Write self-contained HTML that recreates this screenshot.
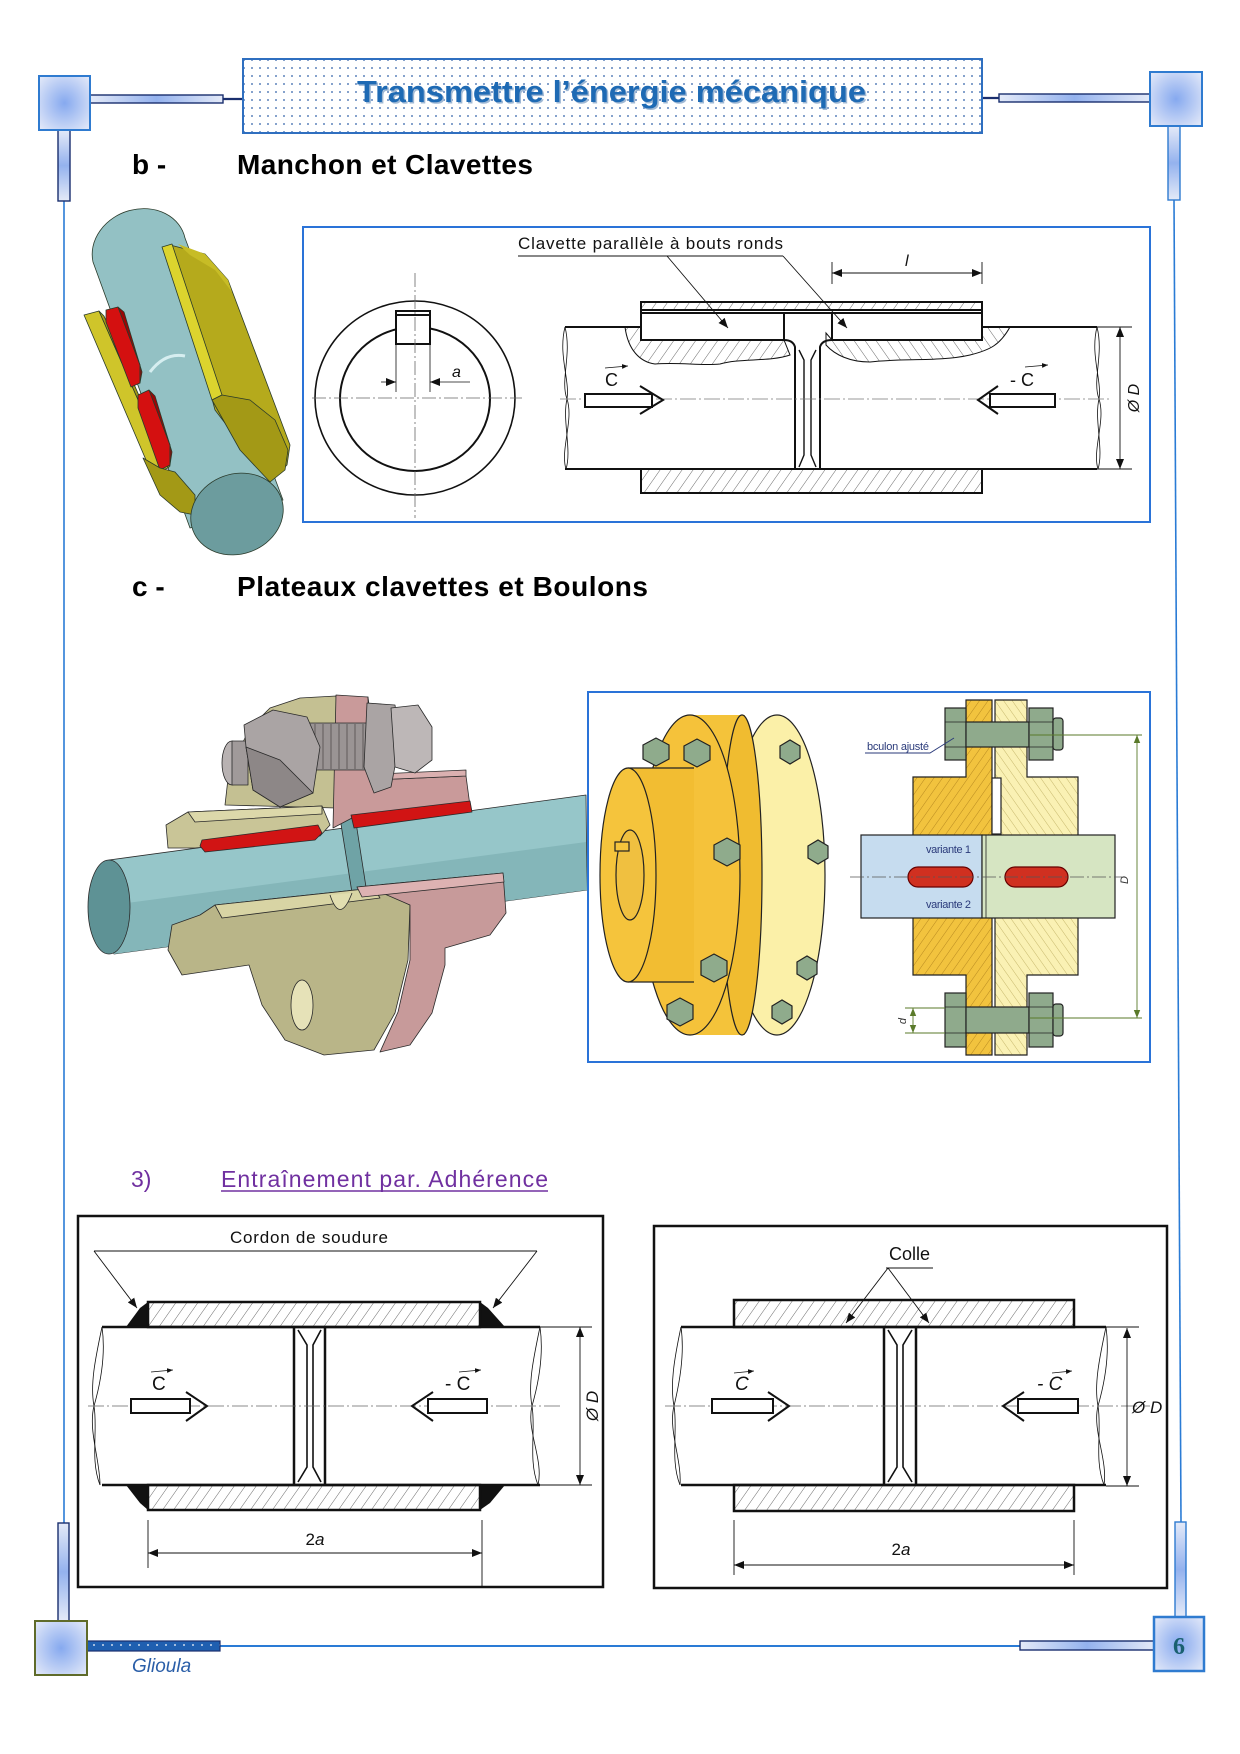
<!DOCTYPE html>
<html><head><meta charset="utf-8"><style>
html,body{margin:0;padding:0;background:#fff;}
svg{display:block;}
</style></head><body>
<svg xmlns="http://www.w3.org/2000/svg" width="1240" height="1754" viewBox="0 0 1240 1754" font-family="'Liberation Sans', Arial, sans-serif">
<defs>
 <radialGradient id="sq" cx="50%" cy="50%" r="65%"><stop offset="0" stop-color="#86a9ef"/><stop offset="1" stop-color="#dfe6f8"/></radialGradient>
 <linearGradient id="barH" x1="0" y1="0" x2="1" y2="0"><stop offset="0" stop-color="#e4eaf8"/><stop offset="0.5" stop-color="#94b2ee"/><stop offset="1" stop-color="#e4eaf8"/></linearGradient>
 <linearGradient id="barV" x1="0" y1="0" x2="0" y2="1"><stop offset="0" stop-color="#e4eaf8"/><stop offset="0.5" stop-color="#94b2ee"/><stop offset="1" stop-color="#e4eaf8"/></linearGradient>
 <pattern id="dots" width="8" height="8" patternUnits="userSpaceOnUse"><rect width="8" height="8" fill="#fff"/><circle cx="4" cy="4" r="0.9" fill="#2e5fa8"/></pattern>
 <pattern id="fdots" width="9" height="10" patternUnits="userSpaceOnUse"><rect width="9" height="10" fill="#1f5fb0"/><circle cx="4" cy="5" r="0.9" fill="#fff"/></pattern>
 <pattern id="hatch" width="9" height="9" patternUnits="userSpaceOnUse" patternTransform="rotate(35)"><rect width="9" height="9" fill="#fff"/><line x1="0" y1="0" x2="0" y2="9" stroke="#444" stroke-width="0.8"/></pattern>
 <pattern id="hatchR" width="9" height="9" patternUnits="userSpaceOnUse" patternTransform="rotate(-35)"><rect width="9" height="9" fill="#fff"/><line x1="0" y1="0" x2="0" y2="9" stroke="#444" stroke-width="0.8"/></pattern>
 <pattern id="hatchO" width="7" height="7" patternUnits="userSpaceOnUse" patternTransform="rotate(35)"><rect width="7" height="7" fill="#f2c33e"/><line x1="0" y1="0" x2="0" y2="7" stroke="#a87a18" stroke-width="0.8"/></pattern>
 <pattern id="hatchY" width="7" height="7" patternUnits="userSpaceOnUse" patternTransform="rotate(-35)"><rect width="7" height="7" fill="#faf1b4"/><line x1="0" y1="0" x2="0" y2="7" stroke="#b9a85a" stroke-width="0.8"/></pattern>
 <marker id="ah" viewBox="0 0 10 8" refX="10" refY="4" markerWidth="10" markerHeight="8" markerUnits="userSpaceOnUse" orient="auto-start-reverse"><path d="M0,0 L10,4 L0,8 Z" fill="#111"/></marker>
 <marker id="ahg" viewBox="0 0 10 8" refX="10" refY="4" markerWidth="8" markerHeight="7" markerUnits="userSpaceOnUse" orient="auto-start-reverse"><path d="M0,0 L10,4 L0,8 Z" fill="#5a7a2a"/></marker>
 <marker id="ahs" viewBox="0 0 10 8" refX="10" refY="4" markerWidth="6" markerHeight="5" markerUnits="userSpaceOnUse" orient="auto"><path d="M0,0 L10,4 L0,8 Z" fill="#111"/></marker>
</defs>

<!-- ============ FRAME ============ -->
<line x1="64" y1="201" x2="64" y2="1523" stroke="#2a7bd5" stroke-width="1.6"/>
<line x1="1174" y1="200" x2="1181" y2="1522" stroke="#2a7bd5" stroke-width="1.6"/>
<line x1="223" y1="99" x2="245" y2="99" stroke="#1a2f6e" stroke-width="2.2"/>
<rect x="90" y="95" width="133" height="8" fill="url(#barH)" stroke="#1a2f6e" stroke-width="1.4"/>
<rect x="58" y="130" width="12" height="71" fill="url(#barV)" stroke="#1a2f6e" stroke-width="1.4"/>
<rect x="39" y="76" width="51" height="54" fill="url(#sq)" stroke="#2f7bd0" stroke-width="2"/>
<line x1="982" y1="98" x2="999" y2="98" stroke="#1a2f6e" stroke-width="2.2"/>
<rect x="999" y="94" width="151" height="8" fill="url(#barH)" stroke="#1a2f6e" stroke-width="1.4"/>
<rect x="1168" y="126" width="12" height="74" fill="url(#barV)" stroke="#2f7bd0" stroke-width="1.4"/>
<rect x="1150" y="72" width="52" height="54" fill="url(#sq)" stroke="#2f7bd0" stroke-width="2"/>
<rect x="243" y="59" width="739" height="74" fill="url(#dots)" stroke="#2f6fc0" stroke-width="2"/>
<text x="358.5" y="103.5" font-size="31" font-weight="bold" fill="#9fb8d4" textLength="509" lengthAdjust="spacingAndGlyphs">Transmettre l’énergie mécanique</text>
<text x="357" y="102" font-size="31" font-weight="bold" fill="#1e6ab4" textLength="509" lengthAdjust="spacingAndGlyphs">Transmettre l’énergie mécanique</text>
<rect x="58" y="1523" width="11" height="98" fill="url(#barV)" stroke="#1a2f6e" stroke-width="1.4"/>
<rect x="1175" y="1522" width="11" height="95" fill="url(#barV)" stroke="#2f7bd0" stroke-width="1.4"/>
<line x1="220" y1="1646" x2="1020" y2="1646" stroke="#2a7bd5" stroke-width="2"/>
<rect x="87" y="1641" width="133" height="10" fill="url(#fdots)" stroke="#1a2f6e" stroke-width="1.2"/>
<rect x="1020" y="1641" width="134" height="9" fill="url(#barH)" stroke="#1a2f6e" stroke-width="1.4"/>
<rect x="35" y="1621" width="52" height="54" fill="url(#sq)" stroke="#5f6b2a" stroke-width="2"/>
<rect x="1154" y="1617" width="50" height="54" fill="url(#sq)" stroke="#2f7bd0" stroke-width="2.5"/>
<text x="1179" y="1654" font-size="24" font-weight="bold" font-family="'Liberation Serif', serif" fill="#1a6070" text-anchor="middle">6</text>
<text x="132" y="1672" font-size="19" font-style="italic" fill="#2a5ea8">Glioula</text>

<!-- ============ HEADINGS ============ -->
<text x="132" y="174" font-size="28" font-weight="bold" fill="#000">b -</text>
<text x="237" y="174" font-size="28" font-weight="bold" fill="#000" textLength="296">Manchon et Clavettes</text>
<text x="132" y="596" font-size="28" font-weight="bold" fill="#000">c -</text>
<text x="237" y="596" font-size="28" font-weight="bold" fill="#000" textLength="411">Plateaux clavettes et Boulons</text>
<text x="131" y="1187" font-size="23" fill="#7030a0">3)</text>
<text x="221" y="1187" font-size="23" fill="#7030a0" textLength="327">Entraînement par. Adhérence</text>
<line x1="221" y1="1191" x2="548" y2="1191" stroke="#7030a0" stroke-width="1.5"/>

<!-- ============ 3D IMAGE 1 ============ -->
<g stroke="#2a3a2a" stroke-width="0.8" stroke-linejoin="round">
 <path d="M93,262 A47,40 -20 0 1 185,238 L283,500 L190,528 Z" fill="#93c1c4"/>
 <path d="M84,315 L99,311 L168,468 L152,474 Z" fill="#cfc52a"/>
 <path d="M99,311 L104,316 L170,466 L168,468 Z" fill="#a49a18"/>
 <path d="M106,310 L118,307 L140,365 L140,383 L131,387 L106,322 Z" fill="#d41010"/>
 <path d="M118,307 L124,312 L142,372 L140,383 L140,365 Z" fill="#9a0606"/>
 <path d="M138,395 L149,390 L170,445 L170,465 L160,470 L138,408 Z" fill="#d41010"/>
 <path d="M149,390 L155,396 L172,452 L170,465 L170,445 Z" fill="#9a0606"/>
 <path d="M170,245 L205,254 L228,280 L290,445 L287,465 L270,482 L215,410 L175,262 Z" fill="#b5aa1c"/>
 <path d="M178,244 L205,254 L228,280 L232,292 L215,270 L190,255 Z" fill="#c7bc26" stroke="none"/>
 <path d="M162,247 L172,244 L222,395 L212,400 Z" fill="#dcd42e"/>
 <path d="M212,400 L222,395 L250,400 L275,420 L288,450 L285,470 L270,482 L240,450 Z" fill="#a39916"/>
 <path d="M143,458 L160,468 L175,472 L195,495 L195,515 L180,512 L160,495 Z" fill="#a39916"/>
 <path d="M150,372 Q165,352 185,356" fill="none" stroke="#d6eef0" stroke-width="3"/>
 <ellipse cx="237" cy="514" rx="47" ry="40" transform="rotate(-20 237 514)" fill="#6c9c9e"/>
</g>

<!-- ============ TOP DRAWING ============ -->
<rect x="303" y="227" width="847" height="295" fill="#fff" stroke="#2a73d8" stroke-width="2"/>
<g fill="none" stroke="#111">
 <ellipse cx="415" cy="398" rx="100" ry="97" stroke-width="1.6"/>
 <ellipse cx="415" cy="399" rx="75" ry="72" stroke-width="2"/>
 <rect x="396" y="311" width="34" height="33" fill="#fff" stroke-width="2"/>
 <line x1="396" y1="315" x2="430" y2="315" stroke-width="2"/>
 <line x1="415" y1="273" x2="415" y2="518" stroke="#666" stroke-width="0.8" stroke-dasharray="14 3 2 3"/>
 <line x1="312" y1="398" x2="522" y2="398" stroke="#666" stroke-width="0.8" stroke-dasharray="14 3 2 3"/>
 <line x1="396" y1="344" x2="396" y2="392" stroke-width="0.8"/>
 <line x1="430" y1="344" x2="430" y2="392" stroke-width="0.8"/>
 <line x1="381" y1="382" x2="396" y2="382" stroke-width="0.8" marker-end="url(#ah)"/>
 <line x1="470" y1="382" x2="430" y2="382" stroke-width="0.8" marker-end="url(#ah)"/>
</g>
<text x="452" y="377" font-size="16" font-style="italic" fill="#111">a</text>

<g fill="none" stroke="#111" stroke-width="2">
 <path d="M625,327 L641,327 L641,340 L784,340 L790,355 C770,362 740,358 720,364 C700,366 680,362 655,364 C640,362 628,350 625,327 Z" fill="url(#hatch)" stroke-width="1"/>
 <path d="M826,333 L832,340 L982,340 L982,327 L1010,327 C1000,345 990,350 970,355 C940,362 900,358 870,362 C850,362 835,355 826,345 Z" fill="url(#hatchR)" stroke-width="1"/>
 <line x1="565" y1="327" x2="641" y2="327"/>
 <line x1="982" y1="327" x2="1097" y2="327"/>
 <line x1="565" y1="469" x2="1097" y2="469"/>
 <rect x="641" y="302" width="341" height="8" fill="url(#hatch)"/>
 <line x1="641" y1="313" x2="982" y2="313"/>
 <line x1="641" y1="302" x2="641" y2="340"/>
 <line x1="982" y1="302" x2="982" y2="340"/>
 <rect x="641" y="313" width="143" height="27" fill="#fff"/>
 <rect x="832" y="313" width="150" height="27" fill="#fff"/>
 <path d="M784,318 L784,340 Q793,340 795,347 L795,469"/>
 <path d="M832,318 L832,340 Q822,340 820,347 L820,469"/>
 <path d="M799,350 L804,360 L804,455 L799,467" stroke-width="1.4"/>
 <path d="M816,350 L811,360 L811,455 L816,467" stroke-width="1.4"/>
 <rect x="641" y="469" width="341" height="24" fill="url(#hatch)"/>
 <path d="M565,327 C572,355 560,380 567,399 C574,420 560,450 566,469" stroke-width="0.8"/>
 <path d="M565,327 C558,355 570,380 567,399 C562,420 572,450 566,469" stroke-width="0.8"/>
 <path d="M1097,327 C1104,355 1092,380 1099,399 C1106,420 1092,450 1098,469" stroke-width="0.8"/>
 <path d="M1097,327 C1090,355 1102,380 1099,399 C1094,420 1104,450 1098,469" stroke-width="0.8"/>
</g>
<line x1="560" y1="399" x2="1112" y2="399" stroke="#777" stroke-width="0.8" stroke-dasharray="16 3 2 3"/>
<g fill="#fff" stroke="#111" stroke-width="2">
 <path d="M585,394 L652,394 L652,407 L585,407 Z"/>
 <path d="M640,386 L663,400 L640,414" fill="none"/>
 <path d="M990,394 L1055,394 L1055,407 L990,407 Z"/>
 <path d="M998,386 L978,400 L998,414" fill="none"/>
</g>
<text x="605" y="386" font-size="18" fill="#111">C</text>
<line x1="605" y1="368" x2="628" y2="366" stroke="#111" stroke-width="0.8" marker-end="url(#ahs)"/>
<text x="1010" y="386" font-size="18" fill="#111">- C</text>
<line x1="1025" y1="367" x2="1048" y2="365" stroke="#111" stroke-width="0.8" marker-end="url(#ahs)"/>
<g stroke="#111" stroke-width="0.9" fill="none">
 <line x1="1097" y1="327" x2="1132" y2="327"/>
 <line x1="1097" y1="469" x2="1132" y2="469"/>
 <line x1="1120" y1="327" x2="1120" y2="469" marker-start="url(#ah)" marker-end="url(#ah)"/>
 <line x1="832" y1="262" x2="832" y2="284"/>
 <line x1="982" y1="262" x2="982" y2="284"/>
 <line x1="832" y1="273" x2="982" y2="273" marker-start="url(#ah)" marker-end="url(#ah)"/>
 <line x1="518" y1="256" x2="783" y2="256"/>
 <line x1="667" y1="256" x2="728" y2="328" marker-end="url(#ah)"/>
 <line x1="783" y1="256" x2="847" y2="328" marker-end="url(#ah)"/>
</g>
<text x="1139" y="398" font-size="16" font-style="italic" fill="#111" text-anchor="middle" transform="rotate(-90 1139 398)">Ø D</text>
<text x="905" y="266" font-size="16" font-style="italic" fill="#111">l</text>
<text x="518" y="249" font-size="17" fill="#111" textLength="265">Clavette parallèle à bouts ronds</text>

<!-- ============ 3D IMAGE 2 ============ -->
<g stroke="#2a2a2a" stroke-width="0.8" stroke-linejoin="round">
 <path d="M109,860 L586,795 L587,890 L114,954 Z" fill="#96c6c9"/>
 <path d="M112,905 L586,842 L587,890 L114,954 Z" fill="#84b6b9" stroke="none"/>
 <ellipse cx="109" cy="907" rx="21" ry="47" fill="#5e9295"/>
 <path d="M340,818 L355,816 L368,900 L354,905 Z" fill="#6fa3a6"/>
 <path d="M225,805 L229,770 L250,728 L270,708 L300,698 L336,696 L336,808 Z" fill="#c4c092"/>
 <path d="M336,695 L368,697 L372,780 L466,776 L470,806 L352,818 L333,828 Z" fill="#c99a9a"/>
 <path d="M368,697 L372,780 L466,776 L466,770 L378,774 Z" fill="#dab0b0"/>
 <ellipse cx="232" cy="763" rx="10" ry="22" fill="#b8b2b2"/>
 <rect x="232" y="741" width="16" height="44" fill="#a09a9a"/>
 <rect x="307" y="723" width="74" height="47" fill="#9a9494"/>
 <g stroke="#6a6464" stroke-width="1.2"><line x1="315" y1="724" x2="315" y2="769"/><line x1="323" y1="724" x2="323" y2="769"/><line x1="331" y1="724" x2="331" y2="769"/><line x1="339" y1="724" x2="339" y2="769"/><line x1="347" y1="724" x2="347" y2="769"/><line x1="355" y1="724" x2="355" y2="769"/><line x1="363" y1="724" x2="363" y2="769"/><line x1="371" y1="724" x2="371" y2="769"/></g>
 <path d="M244,725 L273,710 L307,717 L320,747 L313,793 L280,807 L253,790 L246,747 Z" fill="#aaa4a4"/>
 <path d="M246,747 L280,760 L313,793 L280,807 L253,790 Z" fill="#8d8787"/>
 <path d="M367,703 L395,705 L400,740 L391,787 L374,793 L364,767 Z" fill="#aaa4a4"/>
 <path d="M391,708 L418,705 L432,727 L432,760 L415,773 L395,767 Z" fill="#bdb7b7"/>
 <path d="M166,825 L188,812 L322,806 L330,825 L320,836 L195,848 L168,848 Z" fill="#c9c597"/>
 <path d="M188,812 L322,806 L322,814 L195,822 Z" fill="#dcd8aa"/>
 <path d="M202,840 L318,825 L322,833 L315,840 L205,852 L200,846 Z" fill="#d11414"/>
 <path d="M351,815 L470,801 L472,812 L354,828 Z" fill="#d11414"/>
 <path d="M215,905 L374,888 L410,905 L408,960 L395,1013 L374,1050 L324,1055 L285,1040 L262,1005 L249,965 L182,975 L168,950 L172,925 L200,915 Z" fill="#b9b588"/>
 <path d="M215,905 L374,888 L380,898 L222,918 Z" fill="#d8d4a4"/>
 <path d="M330,895 Q340,925 352,893" fill="#e2deb0"/>
 <ellipse cx="302" cy="1005" rx="11" ry="25" fill="#e6e2b8"/>
 <path d="M357,887 L503,873 L506,913 L490,935 L445,948 L445,965 L432,1013 L410,1045 L380,1052 L398,1012 L410,960 L410,905 L380,892 Z" fill="#c79a9a"/>
 <path d="M357,887 L503,873 L504,882 L362,897 Z" fill="#ddb2b2"/>
</g>

<!-- ============ IMAGE 3 ============ -->
<rect x="588" y="692" width="562" height="370" fill="#fff" stroke="#2a73d8" stroke-width="2"/>
<g stroke="#222" stroke-width="1.2">
 <ellipse cx="777" cy="875" rx="48" ry="160" fill="#fbf0a8"/>
 <rect x="690" y="715" width="55" height="320" fill="#f4c33a" stroke="none"/>
 <ellipse cx="742" cy="875" rx="20" ry="160" fill="#f0bc30"/>
 <ellipse cx="690" cy="875" rx="50" ry="160" fill="#f5c23a"/>
 <rect x="628" y="768" width="66" height="214" fill="#f2bd32" stroke="none"/>
 <line x1="628" y1="768" x2="694" y2="768"/>
 <line x1="628" y1="982" x2="694" y2="982"/>
 <ellipse cx="628" cy="875" rx="28" ry="107" fill="#f5c43c"/>
 <ellipse cx="630" cy="875" rx="14" ry="45" fill="#f0c040"/>
 <rect x="615" y="842" width="14" height="9" fill="#f5c43c"/>
 <g fill="#8fab8c">
  <polygon points="780,746 790,740 800,746 800,758 790,764 780,758"/>
  <polygon points="808,846 818,840 828,846 828,858 818,864 808,858"/>
  <polygon points="797,962 807,956 817,962 817,974 807,980 797,974"/>
  <polygon points="772,1006 782,1000 792,1006 792,1018 782,1024 772,1018"/>
  <polygon points="643,745 656,738 669,745 669,759 656,766 643,759"/>
  <polygon points="684,746 697,739 710,746 710,760 697,767 684,760"/>
  <polygon points="714,845 727,838 740,845 740,859 727,866 714,859"/>
  <polygon points="701,961 714,954 727,961 727,975 714,982 701,975"/>
  <polygon points="667,1005 680,998 693,1005 693,1019 680,1026 667,1019"/>
 </g>
 <path d="M966,700 L992,700 L992,1055 L966,1055 L966,975 L913,975 L913,777 L966,777 Z" fill="url(#hatchO)"/>
 <path d="M995,700 L1027,700 L1027,777 L1078,777 L1078,975 L1027,975 L1027,1055 L995,1055 Z" fill="url(#hatchY)"/>
 <rect x="992" y="778" width="9" height="56" fill="#fff"/>
 <rect x="861" y="835" width="121" height="83" fill="#c6dcef"/>
 <rect x="982" y="835" width="133" height="83" fill="#d6e5c2"/>
 <line x1="986" y1="835" x2="986" y2="918" stroke-width="0.8"/>
 <rect x="908" y="867" width="65" height="20" rx="10" fill="#d03020" stroke="#600"/>
 <rect x="1005" y="867" width="63" height="20" rx="10" fill="#d03020" stroke="#600"/>
 <g fill="#8faa8c">
  <rect x="945" y="708" width="21" height="52"/><rect x="966" y="722" width="63" height="25"/><rect x="1029" y="708" width="24" height="52"/><rect x="1053" y="718" width="10" height="32" rx="3"/>
  <rect x="945" y="993" width="21" height="54"/><rect x="966" y="1007" width="63" height="26"/><rect x="1029" y="993" width="24" height="54"/><rect x="1053" y="1004" width="10" height="32" rx="3"/>
 </g>
 <line x1="945" y1="722" x2="966" y2="722" stroke-width="0.8"/><line x1="945" y1="747" x2="966" y2="747" stroke-width="0.8"/>
 <line x1="1029" y1="722" x2="1053" y2="722" stroke-width="0.8"/><line x1="1029" y1="747" x2="1053" y2="747" stroke-width="0.8"/>
 <line x1="945" y1="1007" x2="966" y2="1007" stroke-width="0.8"/><line x1="945" y1="1033" x2="966" y2="1033" stroke-width="0.8"/>
 <line x1="1029" y1="1007" x2="1053" y2="1007" stroke-width="0.8"/><line x1="1029" y1="1033" x2="1053" y2="1033" stroke-width="0.8"/>
</g>
<line x1="850" y1="877" x2="1122" y2="877" stroke="#555" stroke-width="0.7" stroke-dasharray="14 3 2 3"/>
<g stroke="#5a7a2a" stroke-width="0.9" fill="none">
 <line x1="1030" y1="735" x2="1142" y2="735"/>
 <line x1="1030" y1="1018" x2="1142" y2="1018"/>
 <line x1="1137" y1="735" x2="1137" y2="1018" marker-start="url(#ahg)" marker-end="url(#ahg)"/>
 <line x1="905" y1="1008" x2="945" y2="1008"/>
 <line x1="905" y1="1033" x2="945" y2="1033"/>
 <line x1="913" y1="1008" x2="913" y2="1033" marker-start="url(#ahg)" marker-end="url(#ahg)"/>
</g>
<g stroke="#2a3a7a" stroke-width="0.9" fill="none"><polyline points="865,753 930,753 954,738"/></g>
<text x="867" y="750" font-size="11" fill="#2a3a7a" textLength="62">bculon ajusté</text>
<text x="926" y="853" font-size="11" fill="#2a3a7a" textLength="45">variante 1</text>
<text x="926" y="908" font-size="11" fill="#2a3a7a" textLength="45">variante 2</text>
<text x="1128" y="880" font-size="11" font-style="italic" fill="#333" text-anchor="middle" transform="rotate(-90 1128 880)">D</text>
<text x="906" y="1021" font-size="11" font-style="italic" fill="#333" text-anchor="middle" transform="rotate(-90 906 1021)">d</text>

<!-- ============ BOTTOM LEFT ============ -->
<rect x="78" y="1216" width="525" height="371" fill="#fff" stroke="#111" stroke-width="2.5"/>
<text x="230" y="1243" font-size="17" fill="#111" textLength="158">Cordon de soudure</text>
<g stroke="#111" fill="none" stroke-width="0.9">
 <line x1="94" y1="1251" x2="537" y2="1251"/>
 <line x1="94" y1="1251" x2="137" y2="1308" marker-end="url(#ah)"/>
 <line x1="537" y1="1251" x2="493" y2="1308" marker-end="url(#ah)"/>
</g>
<g fill="#111">
 <path d="M148,1302 L140,1308 L126,1327 L148,1327 Z"/>
 <path d="M480,1302 L488,1308 L505,1327 L480,1327 Z"/>
 <path d="M148,1485 L126,1485 L140,1503 L148,1510 Z"/>
 <path d="M480,1485 L505,1485 L490,1503 L480,1510 Z"/>
</g>
<g stroke="#111" fill="none" stroke-width="2.5">
 <rect x="148" y="1302" width="332" height="25" fill="url(#hatch)"/>
 <rect x="148" y="1485" width="332" height="25" fill="url(#hatch)"/>
 <line x1="102" y1="1327" x2="540" y2="1327"/>
 <line x1="102" y1="1485" x2="540" y2="1485"/>
 <line x1="294" y1="1327" x2="294" y2="1485"/>
 <line x1="325" y1="1327" x2="325" y2="1485"/>
 <path d="M298,1330 L307,1345 L307,1467 L298,1482" stroke-width="1.6"/>
 <path d="M321,1330 L313,1345 L313,1467 L321,1482" stroke-width="1.6"/>
 <path d="M102,1327 C95,1360 90,1385 94,1406 C98,1430 90,1460 100,1485" stroke-width="0.8"/>
 <path d="M102,1327 C106,1355 100,1385 94,1406 C88,1430 100,1460 100,1485" stroke-width="0.8"/>
 <path d="M540,1327 C533,1360 528,1385 532,1406 C536,1430 528,1460 538,1485" stroke-width="0.8"/>
 <path d="M540,1327 C544,1355 538,1385 532,1406 C526,1430 544,1460 538,1485" stroke-width="0.8"/>
</g>
<line x1="88" y1="1406" x2="560" y2="1406" stroke="#666" stroke-width="0.8" stroke-dasharray="16 3 2 3"/>
<g fill="#fff" stroke="#111" stroke-width="2">
 <path d="M131,1399 L190,1399 L190,1413 L131,1413 Z"/>
 <path d="M186,1392 L207,1406 L186,1421" fill="none"/>
 <path d="M428,1399 L487,1399 L487,1413 L428,1413 Z"/>
 <path d="M433,1392 L412,1406 L433,1421" fill="none"/>
</g>
<text x="152" y="1390" font-size="19" fill="#111">C</text>
<line x1="151" y1="1372" x2="173" y2="1370" stroke="#111" stroke-width="0.8" marker-end="url(#ahs)"/>
<text x="445" y="1390" font-size="19" fill="#111">- C</text>
<line x1="459" y1="1372" x2="481" y2="1370" stroke="#111" stroke-width="0.8" marker-end="url(#ahs)"/>
<g stroke="#111" stroke-width="0.9" fill="none">
 <line x1="540" y1="1327" x2="592" y2="1327"/>
 <line x1="540" y1="1485" x2="592" y2="1485"/>
 <line x1="580" y1="1327" x2="580" y2="1485" marker-start="url(#ah)" marker-end="url(#ah)"/>
 <line x1="148" y1="1520" x2="148" y2="1568"/>
 <line x1="482" y1="1520" x2="482" y2="1587"/>
 <line x1="148" y1="1553" x2="482" y2="1553" marker-start="url(#ah)" marker-end="url(#ah)"/>
</g>
<text x="598" y="1406" font-size="17" font-style="italic" fill="#111" text-anchor="middle" transform="rotate(-90 598 1406)">Ø D</text>
<text x="315" y="1545" font-size="17" fill="#111" text-anchor="middle">2<tspan font-style="italic">a</tspan></text>

<!-- ============ BOTTOM RIGHT ============ -->
<rect x="654" y="1226" width="513" height="362" fill="#fff" stroke="#111" stroke-width="2.5"/>
<text x="889" y="1260" font-size="18" fill="#111">Colle</text>
<g stroke="#111" fill="none" stroke-width="2.5">
 <rect x="734" y="1300" width="340" height="27" fill="url(#hatch)"/>
 <rect x="734" y="1485" width="340" height="26" fill="url(#hatch)"/>
 <line x1="681" y1="1327" x2="1106" y2="1327"/>
 <line x1="681" y1="1485" x2="1106" y2="1485"/>
 <line x1="884" y1="1327" x2="884" y2="1485"/>
 <line x1="916" y1="1327" x2="916" y2="1485"/>
 <path d="M888,1330 L897,1345 L897,1467 L888,1482" stroke-width="1.6"/>
 <path d="M912,1330 L903,1345 L903,1467 L912,1482" stroke-width="1.6"/>
 <path d="M681,1327 C674,1360 670,1385 674,1406 C678,1430 670,1460 680,1485" stroke-width="0.8"/>
 <path d="M681,1327 C685,1355 679,1385 674,1406 C668,1430 682,1460 680,1485" stroke-width="0.8"/>
 <path d="M1106,1327 C1099,1360 1094,1385 1098,1406 C1102,1430 1094,1460 1104,1485" stroke-width="0.8"/>
 <path d="M1106,1327 C1110,1355 1104,1385 1098,1406 C1092,1430 1108,1460 1104,1485" stroke-width="0.8"/>
</g>
<g stroke="#111" fill="none" stroke-width="0.9">
 <line x1="886" y1="1268" x2="933" y2="1268"/>
 <line x1="888" y1="1268" x2="846" y2="1323" marker-end="url(#ah)"/>
 <line x1="888" y1="1268" x2="929" y2="1323" marker-end="url(#ah)"/>
</g>
<line x1="665" y1="1406" x2="1150" y2="1406" stroke="#666" stroke-width="0.8" stroke-dasharray="16 3 2 3"/>
<g fill="#fff" stroke="#111" stroke-width="2">
 <path d="M712,1399 L773,1399 L773,1413 L712,1413 Z"/>
 <path d="M768,1392 L789,1406 L768,1421" fill="none"/>
 <path d="M1018,1399 L1078,1399 L1078,1413 L1018,1413 Z"/>
 <path d="M1024,1392 L1003,1406 L1024,1421" fill="none"/>
</g>
<text x="735" y="1390" font-size="19" font-style="italic" fill="#111">C</text>
<line x1="734" y1="1373" x2="754" y2="1371" stroke="#111" stroke-width="0.8" marker-end="url(#ahs)"/>
<text x="1037" y="1390" font-size="19" font-style="italic" fill="#111">- C</text>
<line x1="1052" y1="1373" x2="1072" y2="1371" stroke="#111" stroke-width="0.8" marker-end="url(#ahs)"/>
<g stroke="#111" stroke-width="0.9" fill="none">
 <line x1="1106" y1="1327" x2="1139" y2="1327"/>
 <line x1="1106" y1="1486" x2="1139" y2="1486"/>
 <line x1="1127" y1="1328" x2="1127" y2="1486" marker-start="url(#ah)" marker-end="url(#ah)"/>
 <line x1="734" y1="1520" x2="734" y2="1575"/>
 <line x1="1074" y1="1520" x2="1074" y2="1575"/>
 <line x1="734" y1="1565" x2="1074" y2="1565" marker-start="url(#ah)" marker-end="url(#ah)"/>
</g>
<text x="1132" y="1413" font-size="17" font-style="italic" fill="#111">Ø D</text>
<text x="901" y="1555" font-size="17" fill="#111" text-anchor="middle">2<tspan font-style="italic">a</tspan></text>
</svg>
</body></html>
